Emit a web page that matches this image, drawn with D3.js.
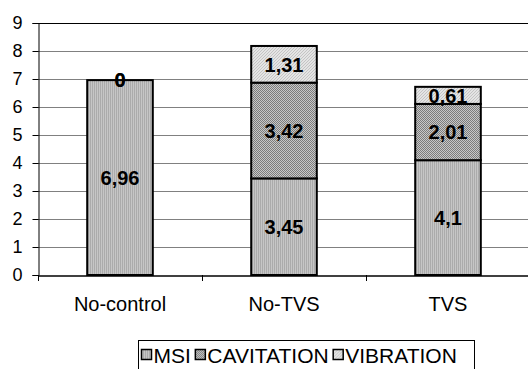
<!DOCTYPE html>
<html>
<head>
<meta charset="utf-8">
<script src="https://cdn.jsdelivr.net/npm/d3@7"></script>
<style>
  html, body { margin: 0; padding: 0; background: #fff; }
  svg { display: block; }
  text { font-family: Arial, "Liberation Sans", sans-serif; }
</style>
</head>
<body>
<svg id="chart" width="528" height="369"></svg>
<script>
// Stacked bar values per control mode
const categories = ["No-control", "No-TVS", "TVS"];
const seriesNames = ["MSI", "CAVITATION", "VIBRATION"];
const msi = [6.96, 3.45, 4.1];
const cavitation = [0, 3.42, 2.01];
const vibration = [0, 1.31, 0.61];
const yTicks = [0, 1, 2, 3, 4, 5, 6, 7, 8, 9];
const labelText = v => String(v).replace(".", ",");

const svg = d3.select("#chart");
const plotLeft = 38, plotRight = 530, plotTop = 23, plotBottom = 275;

const x = d3.scaleBand().domain(categories).range([plotLeft, plotRight]).paddingInner(0.6).paddingOuter(0.3);
const xOuter = d3.scaleBand().domain(categories).range([plotLeft, plotRight]);
const y = d3.scaleLinear().domain([0, 9]).range([plotBottom, plotTop]);

// Fill patterns
const defs = svg.append("defs");
const pMsi = defs.append("pattern").attr("id", "p-msi").attr("patternUnits", "userSpaceOnUse")
  .attr("width", 2).attr("height", 2);
pMsi.append("rect").attr("width", 2).attr("height", 2).attr("fill", "#c6c6c6");
pMsi.append("rect").attr("width", 1).attr("height", 2).attr("fill", "#ababab");

const pCav = defs.append("pattern").attr("id", "p-cav").attr("patternUnits", "userSpaceOnUse")
  .attr("width", 2).attr("height", 2);
pCav.append("rect").attr("width", 2).attr("height", 2).attr("fill", "#c8c8c8");
pCav.append("rect").attr("width", 1).attr("height", 1).attr("fill", "#7c7c7c");
pCav.append("rect").attr("x", 1).attr("y", 1).attr("width", 1).attr("height", 1).attr("fill", "#7c7c7c");

const pVib = defs.append("pattern").attr("id", "p-vib").attr("patternUnits", "userSpaceOnUse")
  .attr("width", 3).attr("height", 3);
pVib.append("rect").attr("width", 3).attr("height", 3).attr("fill", "#e4e4e4");
pVib.append("rect").attr("x", 0).attr("y", 2).attr("width", 1).attr("height", 1).attr("fill", "#c4c4c4");
pVib.append("rect").attr("x", 1).attr("y", 1).attr("width", 1).attr("height", 1).attr("fill", "#c4c4c4");
pVib.append("rect").attr("x", 2).attr("y", 0).attr("width", 1).attr("height", 1).attr("fill", "#c4c4c4");

const fills = ["url(#p-msi)", "url(#p-cav)", "url(#p-vib)"];

// Gridlines
svg.append("g").selectAll("line").data(yTicks.filter(t => t > 0 && t < 9)).join("line")
  .attr("x1", plotLeft).attr("x2", plotRight)
  .attr("y1", d => Math.round(y(d)) + 0.5).attr("y2", d => Math.round(y(d)) + 0.5)
  .attr("stroke", "#808080").attr("stroke-width", 1);
// Top frame
svg.append("line").attr("x1", plotLeft).attr("x2", plotRight)
  .attr("y1", y(9) + 0.5).attr("y2", y(9) + 0.5).attr("stroke", "#000").attr("stroke-width", 1);

// Y axis
const yAxis = svg.append("g").attr("transform", `translate(${plotLeft + 0.5},0)`)
  .call(d3.axisLeft(y).tickValues(yTicks).tickSize(6).tickPadding(10).tickFormat(d3.format("d")));
yAxis.select(".domain").attr("stroke", "#000");
yAxis.selectAll(".tick line").attr("stroke", "#000");
yAxis.selectAll("text").attr("font-size", 18).attr("fill", "#000")
  .attr("font-family", "Arial, 'Liberation Sans', sans-serif");

// Stacked bars
const rows = categories.map((c, i) => ({ cat: c, MSI: msi[i], CAVITATION: cavitation[i], VIBRATION: vibration[i] }));
const stacked = d3.stack().keys(seriesNames)(rows);

const layers = svg.append("g").selectAll("g").data(stacked).join("g")
  .attr("fill", (d, i) => fills[i]);
layers.selectAll("rect").data(d => d).join("rect")
  .attr("x", d => x(d.data.cat))
  .attr("y", d => y(d[1]))
  .attr("width", x.bandwidth())
  .attr("height", d => y(d[0]) - y(d[1]))
  .attr("stroke", "#000").attr("stroke-width", 2);

// Value labels
stacked.forEach(layer => {
  svg.append("g").selectAll("text").data(layer).join("text")
    .attr("x", d => x(d.data.cat) + x.bandwidth() / 2)
    .attr("y", d => (y(d[0]) + y(d[1])) / 2)
    .attr("dy", "0.36em")
    .attr("text-anchor", "middle")
    .attr("font-size", 20).attr("font-weight", "bold").attr("fill", "#000")
    .text(d => labelText(d.data[layer.key]));
});

// X axis
const xAxis = svg.append("g").attr("transform", `translate(0,${plotBottom + 0.5})`)
  .call(d3.axisBottom(xOuter).tickSize(0).tickPadding(21.5));
xAxis.select(".domain").attr("stroke", "#000").attr("stroke-width", 1.5);
xAxis.selectAll("text").attr("font-size", 20).attr("fill", "#000")
  .attr("font-family", "Arial, 'Liberation Sans', sans-serif");
svg.append("g").selectAll("line").data(categories.slice(1)).join("line")
  .attr("x1", d => Math.round(xOuter(d)) + 0.5).attr("x2", d => Math.round(xOuter(d)) + 0.5)
  .attr("y1", plotBottom).attr("y2", plotBottom + 6).attr("stroke", "#000");
svg.append("line").attr("x1", plotLeft + 0.5).attr("x2", plotLeft + 0.5)
  .attr("y1", plotBottom).attr("y2", plotBottom + 6).attr("stroke", "#000");

// Legend
const legend = svg.append("g");
legend.append("rect").attr("x", 138.5).attr("y", 340.5).attr("width", 336).attr("height", 40)
  .attr("fill", "#fff").attr("stroke", "#000");
let lx = 141;
seriesNames.forEach((s, i) => {
  const g = legend.append("g").attr("transform", `translate(${lx},349)`);
  g.append("rect").attr("x", 0.5).attr("y", 0.5).attr("width", 10).attr("height", 10)
    .attr("fill", fills[i]).attr("stroke", "#000").attr("stroke-width", 1.5);
  const t = g.append("text").attr("x", 12.5).attr("y", 6).attr("dy", "0.36em")
    .attr("font-size", 21).attr("fill", "#000").text(s);
  lx += 12.5 + t.node().getComputedTextLength() + 4;
});
</script>
</body>
</html>
